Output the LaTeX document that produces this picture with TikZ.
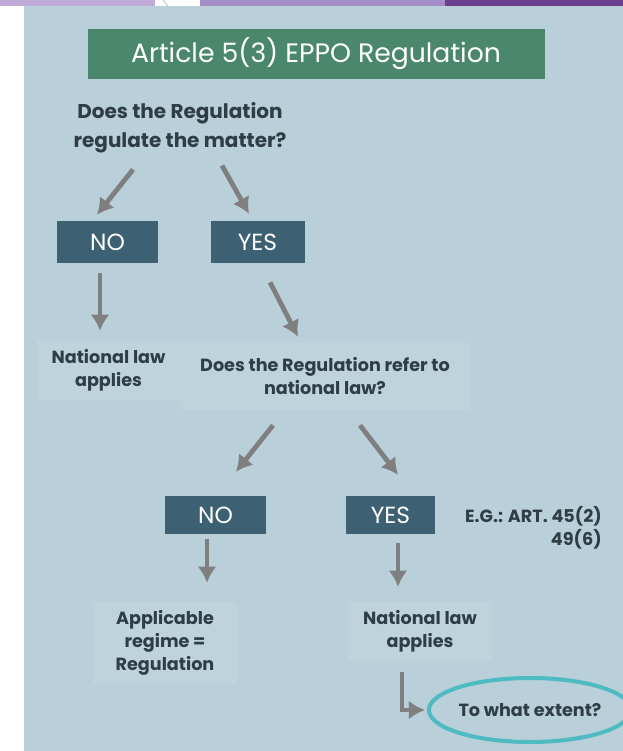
\documentclass[tikz,border=0pt]{standalone}
\usepackage{fontspec}
\setmainfont{Poppins}
\usetikzlibrary{arrows.meta,shapes.geometric}
\definecolor{slide}{HTML}{B9CFDA}
\definecolor{panelblue}{HTML}{BED3DC}
\definecolor{boxblue}{HTML}{3E6073}
\definecolor{titlegreen}{HTML}{4A876C}
\definecolor{arrowgray}{HTML}{7F7F7F}
\definecolor{textdark}{HTML}{2F3D45}
\definecolor{ringteal}{HTML}{4DBBC1}
\definecolor{barlight}{HTML}{C0ABD8}
\definecolor{barmid}{HTML}{A48CC6}
\definecolor{bardark}{HTML}{6C3F8E}

\begin{document}
\begin{tikzpicture}[x=0.75pt,y=-0.75pt,
    answer/.style={fill=boxblue,text=white,inner sep=0pt,
      font=\fontsize{17.5}{19}\selectfont},
    panel/.style={fill=panelblue,text=textdark,inner sep=0pt,align=center,
      font=\bfseries\fontsize{13.2}{17.25}\selectfont},
    arr/.style={draw=arrowgray,line width=3.6pt,
      -{Latex[length=12pt,width=14pt]}}]
  \useasboundingbox (0,0) rectangle (623,751);
  % slide background and top band
  \fill[white] (0,0) rectangle (623,751);
  \fill[slide] (24,6) rectangle (623,751);
  \fill[barlight] (0,0) rectangle (155,6);
  \fill[barmid] (200,0) rectangle (445,6);
  \fill[bardark] (445,0) rectangle (623,6);
  \draw[gray!60] (163,0) -- (168,6);

  \node[fill=titlegreen,text=white,minimum width=342.75pt,minimum height=37.5pt,
    font=\fontsize{20}{24}\selectfont] (title) at (316,54) {Article 5(3) EPPO Regulation};

  % first question
  \node[text=textdark,align=center,inner sep=0pt,minimum height=37.5pt,
    font=\bfseries\fontsize{15}{21.75}\selectfont] (q1) at (180,128)
    {Does the Regulation\\regulate the matter?};
  \node[answer,minimum width=75.75pt,minimum height=31.5pt] (no1) at (107.5,242) {NO};
  \node[answer,minimum width=70.5pt,minimum height=31.5pt] (yes1) at (257.5,242) {YES};
  \node[panel,minimum width=107.25pt,minimum height=44.25pt] (nat1) at (108.5,370)
    {National law\\applies};
  \node[panel,minimum width=217.5pt,minimum height=50.25pt] (q2) at (325,376)
    {Does the Regulation refer to\\national law?};

  % second question
  \node[answer,minimum width=75.75pt,minimum height=28.5pt] (no2) at (215.5,515) {NO};
  \node[answer,minimum width=66.75pt,minimum height=28.5pt] (yes2) at (390.5,515) {YES};
  \node[text=textdark,align=right,anchor=north east,inner sep=0pt,
    font=\bfseries\fontsize{13.2}{17.25}\selectfont] (eg) at (602,506)
    {E.G.: ART. 45(2)\\49(6)};
  \node[panel,minimum width=108pt,minimum height=61.5pt] (app) at (165,643)
    {Applicable\\regime =\\Regulation};
  \node[panel,minimum width=108pt,minimum height=44.25pt] (nat2) at (420,631)
    {National law\\applies};
  \node[ellipse,draw=ringteal,line width=3pt,minimum width=132pt,minimum height=48pt,
    inner sep=0pt,text=textdark,font=\bfseries\fontsize{13.2}{15}\selectfont]
    (ext) at (530,710) {To what extent?};

  % arrows
  \draw[arr] ([shift={(-47,16)}]q1.south) -- ([shift={(-10.5,-6)}]no1.north);
  \draw[arr] ([shift={(42,12)}]q1.south) -- ([shift={(-8.5,-7)}]yes1.north);
  \draw[arr] ([shift={(-7.5,10)}]no1.south) -- ([shift={(-8.5,-9.5)}]nat1.north);
  \draw[arr] ([shift={(12.5,19)}]yes1.south) -- ([shift={(-27,-5.5)}]q2.north);
  \draw[arr] ([shift={(-52,15.5)}]q2.south) -- ([shift={(20.5,-24)}]no2.north);
  \draw[arr] ([shift={(35,15.5)}]q2.south) -- ([shift={(7.5,-21)}]yes2.north);
  \draw[arr] ([shift={(-8.5,5)}]no2.south) -- ([shift={(42,-19)}]app.north);
  \draw[arr] ([shift={(7.5,9)}]yes2.south) -- ([shift={(-22,-14.5)}]nat2.north);
  \draw[arr] ([shift={(-18,11.5)}]nat2.south) |- ([shift={(-2,0)}]ext.west);
\end{tikzpicture}
\end{document}
